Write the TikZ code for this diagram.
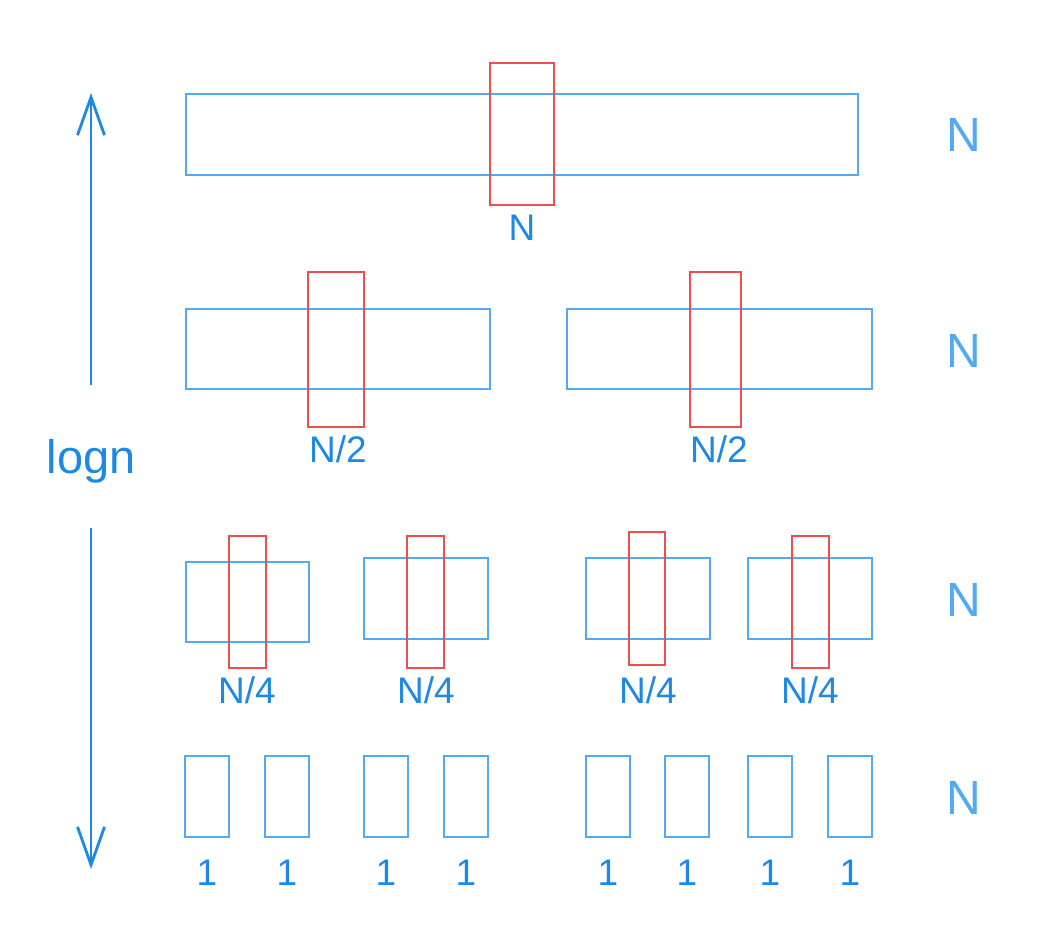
\documentclass[tikz,border=0pt]{standalone}
\usepackage{fontspec}
\setmainfont{Liberation Sans}
\usetikzlibrary{arrows.meta}
\definecolor{boxblue}{HTML}{52AAF2}
\definecolor{txtblue}{HTML}{1E88E5}
\definecolor{boxred}{HTML}{F04E4E}
\tikzset{
  bbox/.style={draw=boxblue, line width=2.7pt, rectangle, inner sep=0pt, outer sep=0pt, anchor=north west},
  rbox/.style={draw=boxred, line width=2.7pt, rectangle, inner sep=0pt, outer sep=0pt, anchor=north west},
  lab/.style={text=txtblue, font=\fontsize{37}{37}\selectfont, anchor=base, inner sep=0pt},
  sidelab/.style={text=boxblue, font=\fontsize{48}{48}\selectfont, anchor=base, inner sep=0pt},
  axis/.style={draw=txtblue, line width=2.8pt, -{Straight Barb[length=38pt,width=27pt,line width=2.8pt]}}
}
\begin{document}
\begin{tikzpicture}[x=1pt,y=-1pt]
\useasboundingbox (0,0) rectangle (1041,927);
% level 1
\node[bbox, minimum width=672pt, minimum height=81pt] (b1) at (186,94) {};
\node[rbox, minimum width=64pt, minimum height=142pt] (r1) at (490,63) {};
\node[lab] (l1) at (522,240) {N};
\node[sidelab] (s1) at (964,151) {N};
% level 2
\node[bbox, minimum width=304pt, minimum height=80pt] (b21) at (186,309) {};
\node[bbox, minimum width=305pt, minimum height=80pt] (b22) at (567,309) {};
\node[rbox, minimum width=56pt, minimum height=155pt] (r21) at (308,272) {};
\node[rbox, minimum width=51pt, minimum height=155pt] (r22) at (690,272) {};
\node[lab] (l21) at (338,462) {N/2};
\node[lab] (l22) at (719,462) {N/2};
\node[sidelab] (s2) at (964,367) {N};
% level 3
\node[bbox, minimum width=123pt, minimum height=80pt] (b31) at (186,562) {};
\node[bbox, minimum width=124pt, minimum height=81pt] (b32) at (364,558) {};
\node[bbox, minimum width=124pt, minimum height=81pt] (b33) at (586,558) {};
\node[bbox, minimum width=124pt, minimum height=81pt] (b34) at (748,558) {};
\node[rbox, minimum width=37pt, minimum height=132pt] (r31) at (229,536) {};
\node[rbox, minimum width=37pt, minimum height=132pt] (r32) at (407,536) {};
\node[rbox, minimum width=36pt, minimum height=133pt] (r33) at (629,532) {};
\node[rbox, minimum width=37pt, minimum height=132pt] (r34) at (792,536) {};
\node[lab] (l31) at (247,703) {N/4};
\node[lab] (l32) at (426,703) {N/4};
\node[lab] (l33) at (648,703) {N/4};
\node[lab] (l34) at (810,703) {N/4};
\node[sidelab] (s3) at (964,616) {N};
% level 4
\foreach \x/\c [count=\i] in {185/207,265/287,364/386,444/466,586/608,665/687,748/770,828/850}{
  \node[bbox, minimum width=44pt, minimum height=81pt] (b4\i) at (\x,756) {};
  \node[lab] (l4\i) at (\c,885) {1};
}
\node[sidelab] (s4) at (964,814) {N};
% axis
\node[text=txtblue, font=\fontsize{47}{47}\selectfont, anchor=base, inner sep=0pt] (logn) at (91,473) {logn};
\coordinate (up0) at (91,385);
\coordinate (up1) at (91,93);
\coordinate (dn0) at (91,528);
\coordinate (dn1) at (91,869);
\draw[axis] (up0) -- (up1);
\draw[axis] (dn0) -- (dn1);
\end{tikzpicture}
\end{document}
